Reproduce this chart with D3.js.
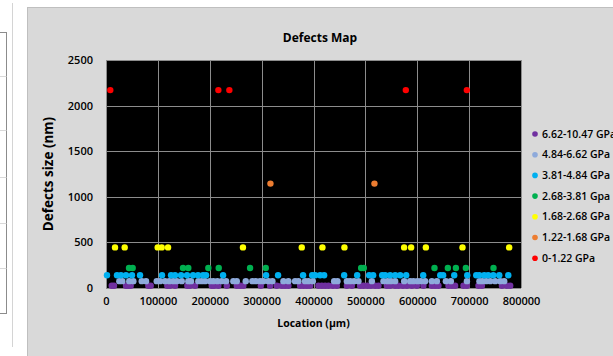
<!DOCTYPE html>
<html>
<head>
<meta charset="utf-8">
<script src="https://cdn.jsdelivr.net/npm/d3@7"></script>
<style>
  body { margin: 0; background: #fff; }
  svg text { font-family: "Open Sans", "Noto Sans", sans-serif; fill: #000; }
</style>
</head>
<body>
<svg id="chart" width="613" height="356"></svg>
<script>
// series, in legend order (first = top of legend, drawn first)
const seriesNames = ["6.62-10.47 GPa", "4.84-6.62 GPa", "3.81-4.84 GPa", "2.68-3.81 Gpa",
                     "1.68-2.68 GPa", "1.22-1.68 GPa", "0-1.22 GPa"];
const seriesColors = ["#7030a0", "#8eaadb", "#00b0f0", "#00b050", "#ffff00", "#ed7d31", "#ff0000"];

// location (µm) and defect size (nm) per series
const loc_662_1047 = [11000, 15400, 38600, 43000, 47600, 81600, 86200, 118200, 123400, 133100,
  156800, 162000, 171600, 203800, 208300, 216600, 232800, 252100, 258500, 264800, 298400,
  316300, 329200, 338900, 345200, 351600, 374200, 380600, 387100, 393500, 409500, 416000,
  422400, 428800, 437300, 445000, 464300, 473900, 489900, 496300, 504000, 510500, 518800,
  525200, 541400, 547800, 557400, 563800, 572300, 580000, 589600, 599200, 611900, 628200,
  634500, 640900, 660200, 666700, 673000, 689100, 695700, 718000, 724600, 763200, 772800, 779200];
const size_662_1047 = [25, 25, 25, 25, 25, 25, 25, 25, 25, 25,
  25, 25, 25, 25, 25, 25, 25, 25, 25, 25, 25,
  25, 25, 25, 25, 25, 25, 25, 25, 25, 25, 25,
  25, 25, 25, 25, 25, 25, 25, 25, 25, 25, 25,
  25, 25, 25, 25, 25, 25, 25, 25, 25, 25, 25,
  25, 25, 25, 25, 25, 25, 25, 25, 25, 25, 25, 25];

const loc_484_662 = [25700, 31400, 44900, 52700, 68900, 77200, 97800, 104200, 113800, 122100,
  129800, 136400, 146000, 158700, 163900, 178000, 184600, 191000, 200600, 207000, 214700,
  223200, 231500, 245500, 252100, 269400, 282200, 288700, 297000, 303400, 313100, 320800,
  342000, 351600, 364500, 370900, 383800, 390200, 398700, 439800, 446200, 464300, 470700,
  478400, 486700, 512500, 534900, 542600, 549100, 557400, 574800, 586300, 592700, 600400,
  607000, 615200, 628200, 637800, 655200, 664800, 695700, 719900, 725700, 732900, 740600,
  750200, 759900, 767600];
const size_484_662 = [75, 75, 75, 75, 75, 75, 75, 75, 75, 75,
  75, 75, 75, 75, 75, 75, 75, 75, 75, 75, 75,
  75, 75, 75, 75, 75, 75, 75, 75, 75, 75, 75,
  75, 75, 75, 75, 75, 75, 75, 75, 75, 75, 75,
  75, 75, 75, 75, 75, 75, 75, 75, 75, 75, 75,
  75, 75, 75, 75, 75, 75, 75, 75, 75, 75, 75,
  75, 75, 75];

const loc_381_484 = [1900, 21200, 28900, 38600, 50100, 65600, 108000, 125400, 133100, 144700,
  156200, 167800, 177400, 187100, 192900, 225700, 308600, 331700, 379900, 397400, 403200,
  412800, 420500, 459100, 484200, 507300, 515000, 532400, 538200, 547800, 557500, 567100,
  578700, 611500, 644300, 650000, 671300, 696400, 713700, 719500, 729100, 736800, 746500,
  758100, 775500];
const size_381_484 = [140, 140, 140, 140, 140, 140, 140, 140, 140, 140,
  140, 140, 140, 140, 140, 140, 140, 140, 140, 140, 140,
  140, 140, 140, 140, 140, 140, 140, 140, 140, 140, 140,
  140, 140, 140, 140, 140, 140, 140, 140, 140, 140, 140,
  140, 140];

const loc_268_381 = [44400, 51400, 148500, 158700, 197300, 217300, 277700, 308000, 491800,
  497000, 633200, 659000, 674500, 693700, 747000];
const size_268_381 = [220, 220, 220, 220, 220, 220, 220, 220, 220,
  220, 220, 220, 220, 220, 220];

const loc_168_268 = [17400, 36000, 99700, 107400, 119600, 264000, 377400, 417200, 459600,
  574700, 588200, 616600, 687200, 777200];
const size_168_268 = [445, 445, 445, 445, 445, 445, 445, 445, 445,
  445, 445, 445, 445, 445];

const loc_122_168 = [317000, 517500];
const size_122_168 = [1145, 1145];

const loc_0_122 = [8300, 216600, 237800, 578000, 695600];
const size_0_122 = [2170, 2170, 2170, 2170, 2170];

const seriesLocs = [loc_662_1047, loc_484_662, loc_381_484, loc_268_381, loc_168_268, loc_122_168, loc_0_122];
const seriesSizes = [size_662_1047, size_484_662, size_381_484, size_268_381, size_168_268, size_122_168, size_0_122];

const xTicks = [0, 100000, 200000, 300000, 400000, 500000, 600000, 700000, 800000];
const yTicks = [0, 500, 1000, 1500, 2000, 2500];

const svg = d3.select("#chart");

// bits of the neighbouring sheet on the left
svg.append("line").attr("x1", 12.5).attr("x2", 12.5).attr("y1", 3).attr("y2", 347)
  .attr("stroke", "#d4d4d4");
svg.append("rect").attr("x", -1).attr("y", 32.5).attr("width", 7.5).attr("height", 281)
  .attr("fill", "#fff").attr("stroke", "#8c8c8c");
[76, 130, 177, 223, 268].forEach(yy => {
  svg.append("line").attr("x1", 0).attr("x2", 6.5).attr("y1", yy + 0.5).attr("y2", yy + 0.5)
    .attr("stroke", "#d9d9d9");
});

// chart area
svg.append("rect").attr("x", 27.5).attr("y", 7.5).attr("width", 600).attr("height", 360)
  .attr("fill", "#d9d9d9").attr("stroke", "#bfbfbf");

const plot = { left: 106, right: 521, top: 60, bottom: 288 };

const x = d3.scaleLinear().domain([0, 800000]).range([plot.left, plot.right]);
const y = d3.scaleLinear().domain([0, 2500]).range([plot.bottom, plot.top]);

svg.append("rect")
  .attr("x", plot.left).attr("y", plot.top)
  .attr("width", plot.right - plot.left).attr("height", plot.bottom - plot.top)
  .attr("fill", "#000");

// gridlines
svg.append("g").selectAll("line").data(xTicks).enter().append("line")
  .attr("x1", d => Math.round(x(d)) + 0.5).attr("x2", d => Math.round(x(d)) + 0.5)
  .attr("y1", plot.top).attr("y2", plot.bottom)
  .attr("stroke", "#8c8c8c").attr("stroke-width", 1);
svg.append("g").selectAll("line").data(yTicks).enter().append("line")
  .attr("x1", plot.left).attr("x2", plot.right)
  .attr("y1", d => Math.round(y(d)) + 0.5).attr("y2", d => Math.round(y(d)) + 0.5)
  .attr("stroke", "#8c8c8c").attr("stroke-width", 1);

// axes (labels only)
const xAxis = svg.append("g")
  .attr("transform", "translate(0," + (plot.bottom + 6) + ")")
  .call(d3.axisBottom(x).tickValues(xTicks).tickFormat(d3.format("d")).tickSize(0));
xAxis.select(".domain").remove();
xAxis.selectAll("text").attr("font-size", "11px").attr("font-weight", 600)
  .attr("font-family", "'Open Sans', sans-serif").attr("fill", "#000");

const yAxis = svg.append("g")
  .attr("transform", "translate(" + (plot.left - 10) + ",0)")
  .call(d3.axisLeft(y).tickValues(yTicks).tickFormat(d3.format("d")).tickSize(0));
yAxis.select(".domain").remove();
yAxis.selectAll("text").attr("font-size", "11px").attr("font-weight", 600)
  .attr("font-family", "'Open Sans', sans-serif").attr("fill", "#000");

// points
seriesLocs.forEach((locs, i) => {
  svg.append("g").selectAll("circle")
    .data(locs.map((l, j) => ({ loc: l, size: seriesSizes[i][j] })))
    .enter().append("circle")
    .attr("cx", d => x(d.loc))
    .attr("cy", d => y(d.size))
    .attr("r", 3.2)
    .attr("fill", seriesColors[i]);
});

// titles
svg.append("text").attr("x", 320).attr("y", 42).attr("text-anchor", "middle")
  .attr("font-size", "12px").attr("font-weight", 700).text("Defects Map");

svg.append("text").attr("x", (plot.left + plot.right) / 2).attr("y", 327)
  .attr("text-anchor", "middle").attr("font-size", "10.5px").attr("font-weight", 700)
  .text("Location (µm)");

svg.append("text")
  .attr("transform", "translate(53," + (plot.top + plot.bottom) / 2 + ") rotate(-90)")
  .attr("text-anchor", "middle").attr("font-size", "13.5px").attr("font-weight", 700)
  .text("Defects size (nm)");

// legend (runs off the right edge, as in the screenshot)
const legend = svg.append("g").selectAll("g").data(seriesNames).enter().append("g")
  .attr("transform", (d, i) => "translate(535," + (134 + i * 20.7) + ")");
legend.append("circle").attr("r", 2.8).attr("fill", (d, i) => seriesColors[i]);
legend.append("text").attr("x", 7).attr("dy", "0.35em")
  .attr("font-size", "10.5px").attr("font-weight", 600).text(d => d);
</script>
</body>
</html>
